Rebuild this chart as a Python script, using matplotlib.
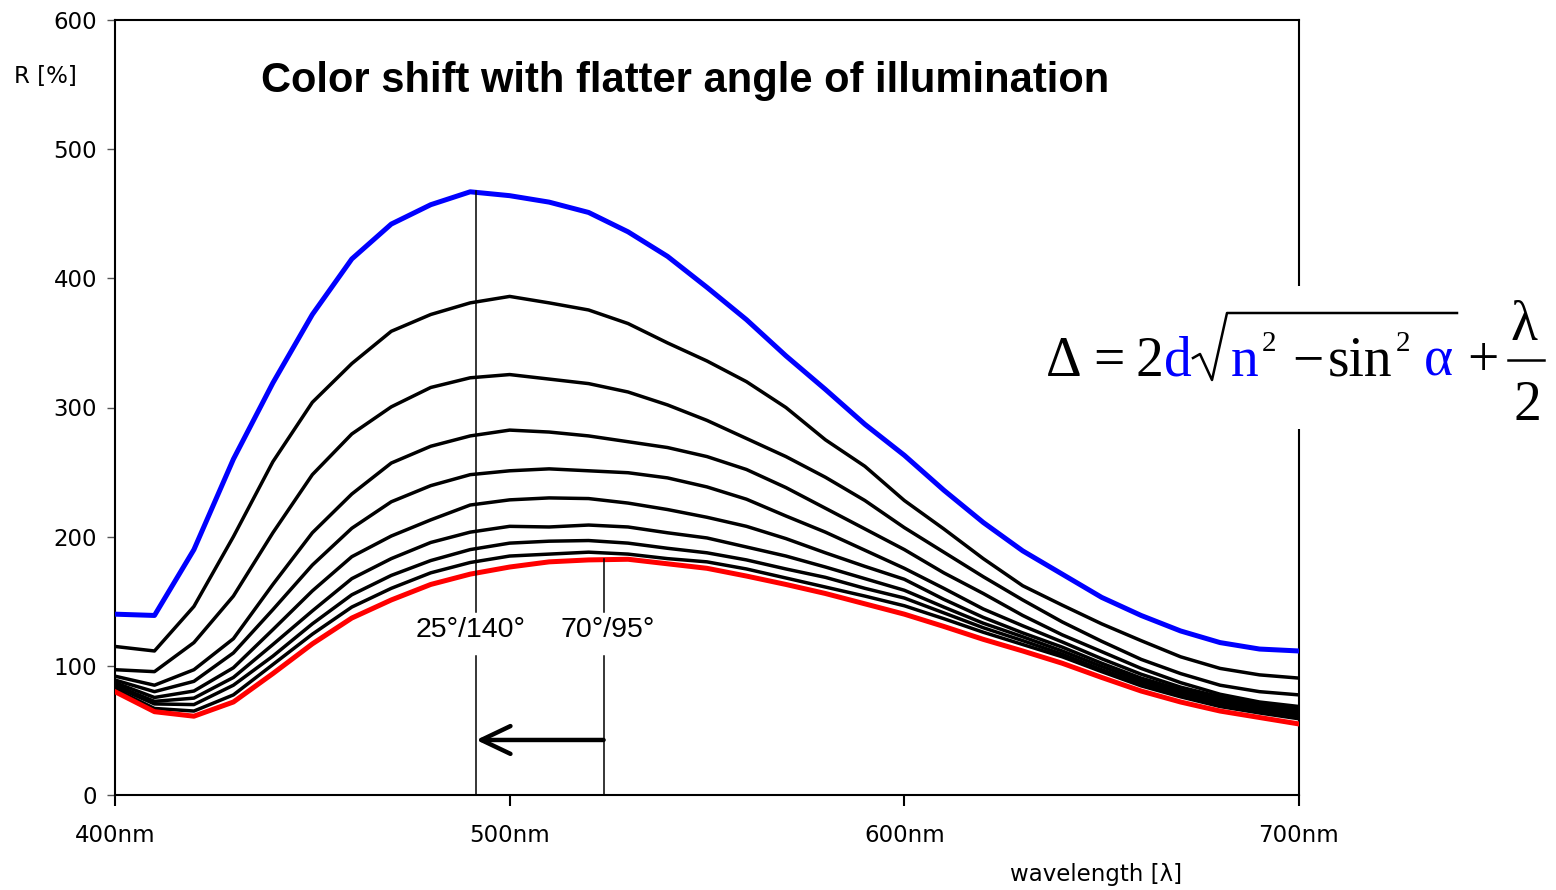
import matplotlib
matplotlib.use('Agg')
import matplotlib.pyplot as plt
from matplotlib.lines import Line2D
from matplotlib.patches import Rectangle

# wavelength grid [nm] and reflectance curves R [%]
wavelength = list(range(400, 701, 10))

blue = [140, 139, 190, 260, 319, 372, 415, 442, 457, 467, 464, 459, 451, 436, 417, 393,
        368, 340, 314, 287, 263, 236, 211, 189, 171, 153, 139, 127, 118, 113, 111.5]
k1 = [115, 111.5, 146, 200, 258, 304, 334, 359, 372, 381, 386, 381, 375.5, 365, 350, 336,
      320, 300, 275, 254.5, 228, 206, 183, 162, 147, 132.5, 119.5, 107, 98, 93, 90.5]
k2 = [97, 95.5, 118, 154, 203, 248, 279.5, 300.5, 315.5, 323, 325.5, 322, 318.5, 312, 302, 290,
      276, 262, 246, 228, 207, 188, 169, 151, 134, 119, 105, 94, 85, 80, 77.5]
k3 = [92, 85, 97, 121, 163, 203, 233, 257, 270, 278, 282.5, 281, 278, 273.5, 269, 262,
      252, 238, 222, 206, 190, 172, 156, 139, 124, 111, 98, 87, 78, 72, 68.5]
k4 = [89, 80, 88, 110, 143.5, 178, 206.5, 227, 239.5, 248, 251, 252.5, 251, 249.5, 245.5, 238.5,
      229, 216, 203.5, 189.5, 175.5, 160, 144, 131, 118.5, 105.5, 93.5, 83.5, 76, 71, 66.5]
k5 = [87, 75.5, 80.5, 98.5, 128, 158, 184.5, 200.5, 213, 224.5, 228.5, 230, 229.5, 226, 221, 215,
      208, 198.5, 187.5, 177, 167, 151.5, 137.5, 125.5, 114.5, 102, 90.5, 81.5, 74, 69, 64.5]
k6 = [85, 72.5, 75, 91, 116.5, 142.5, 167.5, 183, 195.5, 203.5, 208, 207.5, 209, 207.5, 203, 199,
      192, 185, 176.5, 167.5, 158.5, 145.5, 133, 122.5, 111.5, 99.5, 88.5, 79.5, 72.5, 67.5, 63]
k7 = [84, 70.5, 70, 85, 107.5, 132.5, 155, 170, 181.5, 190, 195, 196.5, 197, 195, 191, 187.5,
      182, 175, 168.5, 160, 152.5, 141, 129.5, 119.5, 109, 97, 86.5, 77.5, 70.5, 65.5, 61]
k8 = [82, 67, 65, 77.5, 101, 124.5, 145.5, 160, 172, 180, 185, 186.5, 188, 186.5, 183, 180.5,
      175, 168, 161, 154, 146.5, 136.5, 126, 116.5, 107, 95.5, 84.5, 76, 68.5, 63.5, 59]
red = [80, 64.5, 61, 72, 94, 117, 137, 151, 163, 171, 176.5, 180.5, 182, 182.5, 179, 175.5,
       169.5, 163, 156, 148, 140, 130.5, 120.5, 111.5, 102, 91, 80.5, 72, 65, 60, 55]

black_curves = [k1, k2, k3, k4, k5, k6, k7, k8]

x_ticks = [400, 500, 600, 700]
x_labels = ['400nm', '500nm', '600nm', '700nm']
y_ticks = [0, 100, 200, 300, 400, 500, 600]

# marker lines for the two illumination angles
peak_25 = 491.5
peak_70 = 523.8
angle_labels = ['25°/140°', '70°/95°']

W, H = 1556, 890
fig = plt.figure(figsize=(W / 100, H / 100), dpi=100)
ax = fig.add_axes([115 / W, 1 - 795 / H, (1299 - 115) / W, (795 - 20) / H])


def fx(x):
    return x / W


def fy(y):
    return 1 - y / H


for c in black_curves:
    ax.plot(wavelength, c, color='black', lw=2.5, solid_joinstyle='round', zorder=2)
ax.plot(wavelength, blue, color='#0000FF', lw=3.6, solid_joinstyle='round', zorder=3)
ax.plot(wavelength, red, color='#FF0000', lw=3.6, solid_joinstyle='round', zorder=3)

ax.set_xlim(400, 700)
ax.set_ylim(0, 600)
ax.set_xticks(x_ticks)
ax.set_xticklabels(x_labels)
ax.set_yticks(y_ticks)
ax.tick_params(axis='y', direction='out', length=6, width=1, pad=7, labelsize=16.5,
               color='#555555')
ax.tick_params(axis='x', direction='out', length=8, width=1.5, pad=13, labelsize=16.5)
for s in ax.spines.values():
    s.set_linewidth(1.5)

# vertical marker lines with a gap for the labels
ax.plot([peak_25, peak_25], [141.7, 468], color='black', lw=1.1, zorder=4)
ax.plot([peak_25, peak_25], [0, 108], color='black', lw=1.1, zorder=4)
ax.plot([peak_70, peak_70], [141.7, 182.5], color='black', lw=1.1, zorder=4)
ax.plot([peak_70, peak_70], [0, 108], color='black', lw=1.1, zorder=4)
ax.text(490.2, 127.5, angle_labels[0], ha='center', va='center', fontsize=20.5,
        family='Liberation Sans')
ax.text(524.9, 127.5, angle_labels[1], ha='center', va='center', fontsize=20.5,
        family='Liberation Sans')
ax.annotate('', xy=(peak_25, 42.6), xytext=(peak_70, 42.6),
            arrowprops=dict(arrowstyle='->,head_length=1.05,head_width=0.5', lw=3.2,
                            color='black', shrinkA=0, shrinkB=0, mutation_scale=20),
            zorder=4)

# titles / axis labels
fig.text(fx(685), fy(92), 'Color shift with flatter angle of illumination', ha='center',
         va='baseline', fontsize=30, fontweight='bold', family='Liberation Sans')
fig.text(fx(14), fy(77), 'R [%]', ha='left', va='center', fontsize=16.5)
fig.text(fx(1096), fy(875), 'wavelength [λ]', ha='center', va='center', fontsize=16.5)

# formula, on a white box over the right frame line
fig.add_artist(Rectangle((fx(1040), fy(429)), (W - 1040) / W, (429 - 286) / H,
                         transform=fig.transFigure, facecolor='white', edgecolor='none',
                         zorder=5))
serif = ['Liberation Serif', 'DejaVu Serif']
pieces = [
    (1046, 376, 'Δ', 'black', 40),
    (1093, 376, '=', 'black', 40),
    (1136, 376, '2', 'black', 40),
    (1164, 376, 'd', '#0000FF', 40),
    (1231, 376, 'n', '#0000FF', 40),
    (1262, 351, '2', 'black', 21),
    (1292, 376, '−', 'black', 40),
    (1328, 376, 'sin', 'black', 40),
    (1396, 351, '2', 'black', 21),
    (1424, 376, 'α', '#0000FF', 40),
    (1467, 376, '+', 'black', 40),
    (1511, 340, 'λ', 'black', 40),
    (1514, 420, '2', 'black', 40),
]
for x, y, t, col, size in pieces:
    fig.text(fx(x), fy(y), t, ha='left', va='baseline', fontsize=size, color=col,
             family=serif, zorder=6)
rad_x = [1193, 1200, 1212, 1227, 1457]
rad_y = [358, 354, 380, 313, 313]
fig.add_artist(Line2D([fx(v) for v in rad_x], [fy(v) for v in rad_y], color='black',
                      lw=1.8, transform=fig.transFigure, zorder=6))
fig.add_artist(Line2D([fx(1508), fx(1544)], [fy(360), fy(360)], color='black', lw=1.8,
                      transform=fig.transFigure, zorder=6))

fig.savefig('out.png', dpi=100)
